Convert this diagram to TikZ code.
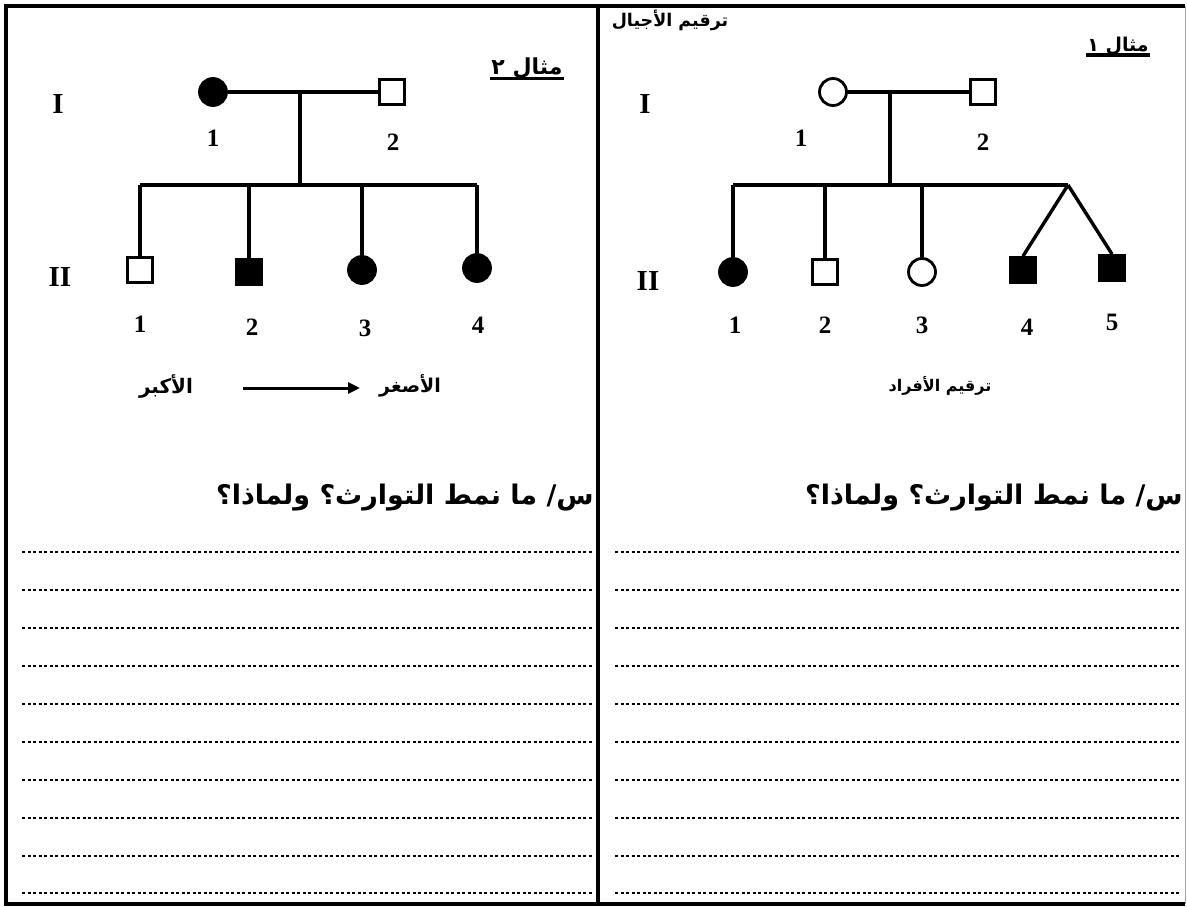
\documentclass[tikz,border=0pt]{standalone}
\usepackage{fontspec}
\setmainfont{Liberation Serif}
\newfontfamily\arabicfont[Script=Arabic]{DejaVu Sans}
\TeXXeTstate=1
\usetikzlibrary{arrows.meta}
\begin{document}
\begin{tikzpicture}[x=1pt,y=-1pt,
  pline/.style={line width=3.4pt},
  fem/.style={circle,draw,line width=2.8pt,minimum size=27pt,inner sep=0pt},
  mal/.style={rectangle,draw,line width=2.8pt,minimum size=25pt,inner sep=0pt},
  aff/.style={fill=black},
  num/.style={font=\bfseries\fontsize{25}{26}\selectfont},
  gen/.style={font=\bfseries\fontsize{29}{30}\selectfont},
  ar/.style={font=\arabicfont\bfseries\fontsize{#1}{#1}\selectfont},
  ar/.default=18,
  qtext/.style={font=\arabicfont\bfseries\fontsize{27}{30}\selectfont,anchor=east,inner sep=0pt},
  uline/.style={line width=3.4pt},
  dotline/.style={line width=2.3pt,dash pattern=on 3.4pt off 2.1pt}]
\useasboundingbox (0,0) rectangle (1187,907);
% frame
\draw[line width=3.4pt] (1185,6) -- (6,6) -- (6,904) -- (1185,904);
\draw[line width=1pt,black!35] (1185,6) -- (1185,904);
\draw[line width=3.6pt] (598,6) -- (598,904);

% ===== left panel (example 2) =====
\node[ar=22,inner sep=1pt] (t2) at (527,68) {\beginR مثال ٢\endR};
\draw[uline] ([yshift=1pt]t2.south west) -- ([yshift=1pt]t2.south east);
\node[gen] (LI) at (58,104) {I};
\node[gen] (LII) at (60,277) {II};

\node[fem,aff] (L1) at (213,92) {};
\node[mal] (L2) at (392,92) {};
\draw[pline] (L1) -- (L2);
\node[num] (L1n) at (213,138) {1};
\node[num] (L2n) at (393,142) {2};
\coordinate (Lm) at (300,92);
\coordinate (Ls) at (300,185);
\draw[pline] (Lm) -- (Ls);
\node[mal] (L21) at (140,270) {};
\node[mal,aff] (L22) at (249,272) {};
\node[fem,aff] (L23) at (362,270) {};
\node[fem,aff] (L24) at (477,268) {};
\coordinate (Lsl) at (L21 |- Ls);
\coordinate (Lsr) at (L24 |- Ls);
\draw[pline] (Lsl) -- (Lsr);
\foreach \c in {L21,L22,L23,L24} \draw[pline] (\c |- Ls) -- (\c);
\node[num] at (140,324) {1};
\node[num] at (252,327) {2};
\node[num] at (365,328) {3};
\node[num] at (478,325) {4};

\node[ar=20] (old) at (166,386) {\beginR الأكبر\endR};
\node[ar=19] (young) at (410,386) {\beginR الأصغر\endR};
\coordinate (a1) at (243,388);
\coordinate (a2) at (360,388);
\draw[line width=3pt,-{Triangle[length=12pt,width=11pt]}] (a1) -- (a2);

\node[qtext] (q2) at (594,498) {\beginR س/ ما نمط التوارث؟ ولماذا؟\endR};
\foreach \y in {552,590,628,666,704,742,780,818,856,893}
  \draw[dotline] (22,\y) -- (592,\y);

% ===== right panel (example 1) =====
\node[ar=17.5] (gens) at (670,20) {\beginR ترقيم الأجيال\endR};
\node[ar=19,inner sep=1pt] (t1) at (1118,46) {\beginR مثال ١\endR};
\draw[uline] ([yshift=1pt]t1.south west) -- ([yshift=1pt]t1.south east);
\node[gen] (RI) at (645,104) {I};
\node[gen] (RII) at (648,281) {II};

\node[fem] (R1) at (833,92) {};
\node[mal] (R2) at (983,92) {};
\draw[pline] (R1) -- (R2);
\node[num] at (801,138) {1};
\node[num] at (983,142) {2};
\coordinate (Rm) at (890,92);
\coordinate (Rs) at (890,185);
\draw[pline] (Rm) -- (Rs);
\node[fem,aff] (R21) at (733,272) {};
\node[mal] (R22) at (825,272) {};
\node[fem] (R23) at (922,272) {};
\node[mal,aff] (R24) at (1023,270) {};
\node[mal,aff] (R25) at (1112,268) {};
\coordinate (Rsl) at (R21 |- Rs);
\coordinate (Rtw) at (1068,185);
\draw[pline] (Rsl) -- (Rtw);
\foreach \c in {R21,R22,R23} \draw[pline] (\c |- Rs) -- (\c);
\draw[pline] (Rtw) -- (R24.north);
\draw[pline] (Rtw) -- (R25.north);
\node[num] at (735,325) {1};
\node[num] at (825,325) {2};
\node[num] at (922,325) {3};
\node[num] at (1027,327) {4};
\node[num] at (1112,322) {5};

\node[ar=16] (indiv) at (940,386) {\beginR ترقيم الأفراد\endR};

\node[qtext] (q1) at (1183,498) {\beginR س/ ما نمط التوارث؟ ولماذا؟\endR};
\foreach \y in {552,590,628,666,704,742,780,818,856,893}
  \draw[dotline] (615,\y) -- (1180,\y);
\end{tikzpicture}
\end{document}
